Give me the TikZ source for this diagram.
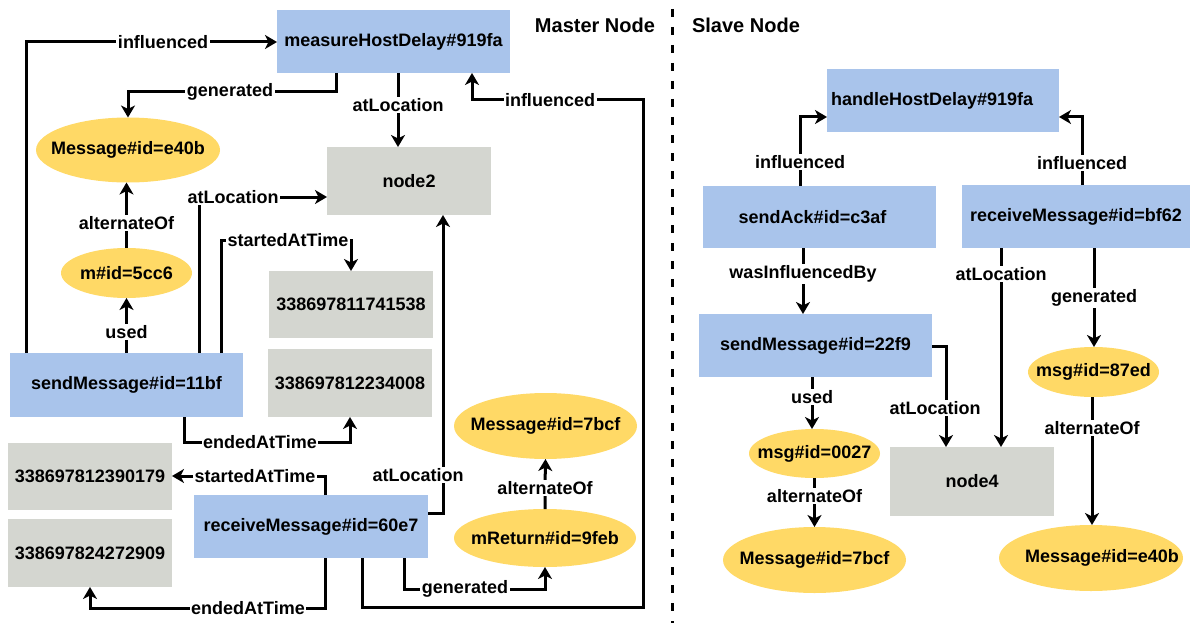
\documentclass[tikz,border=0pt]{standalone}
\usepackage{fontspec}
\setmainfont{Liberation Sans}
\usetikzlibrary{arrows.meta,shapes.geometric}
\definecolor{actblue}{RGB}{169,196,235}
\definecolor{locgray}{RGB}{212,214,208}
\definecolor{entyellow}{RGB}{255,217,102}
\tikzset{
  base/.style={inner sep=0pt, outer sep=0pt},
  actbox/.style={base, rectangle, fill=actblue, minimum width=233pt, minimum height=63pt},
  grbox/.style={base, rectangle, fill=locgray, minimum width=164pt, minimum height=67pt},
  bigell/.style={base, ellipse, fill=entyellow, minimum width=183pt, minimum height=65pt},
  smallell/.style={base, ellipse, fill=entyellow, minimum width=131pt, minimum height=50pt},
  ar/.style={line width=3pt, -{Stealth[length=12pt,width=14pt,inset=3.5pt]}},
  lbl/.style={fill=white, inner sep=1.5pt},
  title/.style={font=\fontsize{20}{24}\selectfont\bfseries},
}
\begin{document}
\begin{tikzpicture}[x=1pt,y=-1pt,font=\fontsize{18}{21}\selectfont\bfseries]
\useasboundingbox (0,0) rectangle (1193,623);
% ---------------- master node ----------------
\node[title] (tmaster) at (595,25) {Master Node};
\node[title] (tslave) at (746,25) {Slave Node};
\node[actbox] (mhd) at (393.5,41.5) {measureHostDelay\#919fa};
\node[bigell, minimum width=184pt, label={center:Message\#id=e40b}] (e40b) at (128,150) {};
\node[grbox, minimum height=68pt] (node2) at (409,181) {node2};
\node[smallell, label={center:m\#id=5cc6}] (m5cc6) at (126.5,273) {};
\node[actbox, minimum height=64pt] (sm11) at (126.5,385) {sendMessage\#id=11bf};
\node[grbox] (t1) at (351,304.5) {338697811741538};
\node[grbox, minimum height=68pt] (t2) at (350,383) {338697812234008};
\node[grbox] (t3) at (90,476.5) {338697812390179};
\node[grbox, minimum height=68pt] (t4) at (90,553) {338697824272909};
\node[actbox, minimum width=234pt] (rm60) at (311,526.5) {receiveMessage\#id=60e7};
\node[bigell, minimum height=66pt, label={center:Message\#id=7bcf}] (m7bcfL) at (545.5,426) {};
\node[bigell, minimum width=182pt, minimum height=58pt, label={center:mReturn\#id=9feb}] (mret) at (545,538) {};
% edges
\draw[ar] (sm11.north -| 26,0) -- (26,42) -- (163,42) node[lbl]{influenced} -- (mhd.west |- 0,42);
\draw[ar] (mhd.south -| 336,0) -- (336,92) -- (230,92) node[lbl]{generated} -- (e40b.north |- 0,92) -- (e40b.north);
\draw[ar] (mhd.south -| 398,0) -- (398,105) node[lbl]{atLocation} -- (node2.north -| 398,0);
\draw[ar] (rm60.south -| 362,0) -- (362,607) -- (643,607) -- (643,100) -- (550,100) node[lbl]{influenced} -- (472,100) -- (mhd.south -| 472,0);
\draw[ar] (sm11.north -| 199,0) -- (199,197) -- (233,197) node[lbl]{atLocation} -- (node2.west |- 0,197);
\draw[ar] (m5cc6.north) -- (m5cc6.north |- 0,223) node[lbl]{alternateOf} -- (m5cc6.north |- e40b.south);
\draw[ar] (sm11.north) -- (sm11.north |- 0,332) node[lbl]{used} -- (m5cc6.south);
\draw[ar] (sm11.north -| 221,0) -- (221,240) -- (288,240) node[lbl]{startedAtTime} -- (t1.north |- 0,240) -- (t1.north);
\draw[ar] (sm11.south -| 184,0) -- (184,442) -- (260,442) node[lbl]{endedAtTime} -- (t2.south |- 0,442) -- (t2.south);
\draw[ar] (rm60.north -| 325,0) -- (325,476) -- (255,476) node[lbl]{startedAtTime} -- (t3.east |- 0,476);
\draw[ar] (rm60.south -| 325,0) -- (325,608) -- (248,608) node[lbl]{endedAtTime} -- (t4.south |- 0,608) -- (t4.south);
\draw[ar] (rm60.east |- 0,513) -- (443,513) -- (443,475) node[lbl,xshift=-25pt]{atLocation} -- (node2.south -| 443,0);
\draw[ar] (rm60.south -| 404,0) -- (404,589) -- (465,589) node[lbl]{generated} -- (mret.south |- 0,589) -- (mret.south);
\draw[ar] (mret.north) -- (mret.north |- 0,488) node[lbl]{alternateOf} -- (m7bcfL.south);
% divider
\draw[line width=3pt, dash pattern=on 8pt off 10pt] (672,9) -- (672,623);
% ---------------- slave node ----------------
\node[actbox, minimum width=232pt, text width=224pt, align=left, inner xsep=4pt] (hhd) at (943,100.5) {handleHostDelay\#919fa};
\node[actbox, minimum height=62pt, label={[xshift=-7pt]center:sendAck\#id=c3af}] (sack) at (819.5,217) {};
\node[actbox, minimum width=228pt] (bf62) at (1076,216.5) {receiveMessage\#id=bf62};
\node[actbox] (sm22) at (815.5,345.5) {sendMessage\#id=22f9};
\node[smallell, minimum height=49pt, label={center:msg\#id=0027}] (m0027) at (814.5,453.5) {};
\node[bigell, minimum height=66pt, label={center:Message\#id=7bcf}] (m7bcfR) at (814.5,560) {};
\node[grbox, minimum height=69pt] (node4) at (972,481.5) {node4};
\node[smallell, label={center:msg\#id=87ed}] (m87) at (1093.5,372) {};
\node[bigell, minimum width=184pt, minimum height=66pt, label={[xshift=11pt]center:Message\#id=e40b}] (e40bR) at (1091,558) {};
\draw[ar] (sack.north -| 800,0) -- (800,162) node[lbl]{influenced} -- (800,117) -- (hhd.west |- 0,117);
\draw[ar] (bf62.north -| 1082,0) -- (1082,163) node[lbl]{influenced} -- (1082,117) -- (hhd.east |- 0,117);
\draw[ar] (sack.south -| 803,0) -- (803,274) node[lbl]{wasInfluencedBy} -- (sm22.north -| 803,0);
\draw[ar] (bf62.south -| 1001,0) -- (1001,274) node[lbl]{atLocation} -- (node4.north -| 1001,0);
\draw[ar] (bf62.south -| 1094,0) -- (1094,298) node[lbl]{generated} -- (m87.north -| 1094,0);
\draw[ar] (sm22.east |- 0,346) -- (946,346) -- (946,408) node[lbl,xshift=-11pt]{atLocation} -- (node4.north -| 946,0);
\draw[ar] (sm22.south -| 812,0) -- (812,397) node[lbl]{used} -- (m0027.north -| 812,0);
\draw[ar] (m0027.south) -- (m0027.south |- 0,496) node[lbl]{alternateOf} -- (m7bcfR.north);
\draw[ar] (m87.south -| 1092,0) -- (1092,428) node[lbl]{alternateOf} -- (e40bR.north -| 1092,0);
\end{tikzpicture}
\end{document}
